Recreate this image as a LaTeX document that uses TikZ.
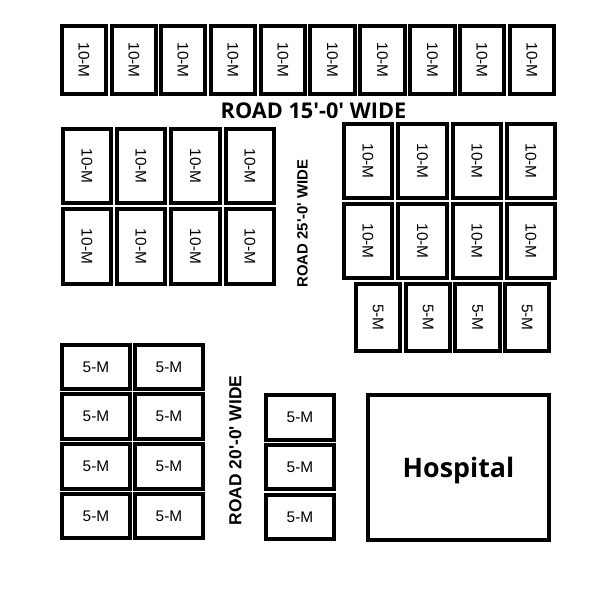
\documentclass[tikz,border=0pt]{standalone}
\usepackage{fontspec}
\setmainfont{Liberation Sans}
\newfontfamily\headfont{Open Sans}
\newfontfamily\roadfont{Liberation Sans}
\tikzset{
  lotbox/.style={draw=black,line width=4pt,fill=white,inner sep=0pt,outer sep=0pt,
    font=\fontsize{15.4}{16}\selectfont,text=black},
  roadtext/.style={inner sep=0pt,text=black},
}
% name, left, top, right, bottom, label
\newcommand{\hlot}[6]{%
  \pgfmathsetmacro{\lotw}{#4-#2-4}\pgfmathsetmacro{\loth}{#5-#3-4}%
  \node[lotbox,minimum width=\lotw pt,minimum height=\loth pt] (#1) at ({(#2+#4)/2},{(#3+#5)/2}) {#6};}
\newcommand{\vlot}[6]{%
  \pgfmathsetmacro{\lotw}{#4-#2-4}\pgfmathsetmacro{\loth}{#5-#3-4}%
  \node[lotbox,rotate=-90,minimum width=\loth pt,minimum height=\lotw pt] (#1) at ({(#2+#4)/2},{(#3+#5)/2}) {#6};}
\begin{document}
\begin{tikzpicture}[x=1pt,y=-1pt]
\useasboundingbox[fill=white] (0,0) rectangle (600,600);
% top row
\foreach \nn/\pa/\pb in {1/60/108,2/110/158,3/159/207,4/209/257,5/259/307,6/308/357,7/358/407,8/408/457,9/458/506,10/508/556}
  {\vlot{top\nn}{\pa}{24}{\pb}{96}{10-M}}
% left block
\foreach \nn/\pa/\pb in {1/61/113,2/115/167,3/169/222,4/224/276}{
  \vlot{la\nn}{\pa}{127}{\pb}{205}{10-M}
  \vlot{lb\nn}{\pa}{207}{\pb}{286}{10-M}}
% right block
\foreach \nn/\pa/\pb in {1/342/394,2/396/449,3/451/503,4/505/557}{
  \vlot{ra\nn}{\pa}{122}{\pb}{200}{10-M}
  \vlot{rb\nn}{\pa}{202}{\pb}{280}{10-M}}
% right 5-M
\foreach \nn/\pa/\pb in {1/354/402,2/404/452,3/453/502,4/503/551}
  {\vlot{rc\nn}{\pa}{282}{\pb}{353}{5-M}}
% lower left 5-M
\foreach \nn/\pa/\pb in {1/343/391,2/392/441,3/442/491,4/492/540}{
  \hlot{da\nn}{60}{\pa}{132}{\pb}{5-M}
  \hlot{db\nn}{133}{\pa}{205}{\pb}{5-M}}
% middle 5-M
\foreach \nn/\pa/\pb in {1/393/442,2/443/491,3/493/541}
  {\hlot{m\nn}{264}{\pa}{336}{\pb}{5-M}}
% hospital
\node[lotbox,minimum width=181pt,minimum height=145pt,font=\headfont\fontsize{26.8}{30}\selectfont\bfseries,text=black] (hospital) at (458.5,467.5) {\raisebox{-9.5pt}[0pt][0pt]{Hospital}};
% road labels
\node[roadtext,font=\headfont\fontsize{21.7}{24}\selectfont\bfseries] (road15) at (313.5,111) {ROAD 15'-0' WIDE};
\node[roadtext,rotate=90,font=\roadfont\fontsize{14.9}{16}\selectfont\bfseries] (road25) at (302.5,223.5) {ROAD 25'-0' WIDE};
\node[roadtext,rotate=90,font=\roadfont\fontsize{17.4}{18}\selectfont\bfseries] (road20) at (235.5,450.5) {ROAD 20'-0' WIDE};
\end{tikzpicture}
\end{document}
